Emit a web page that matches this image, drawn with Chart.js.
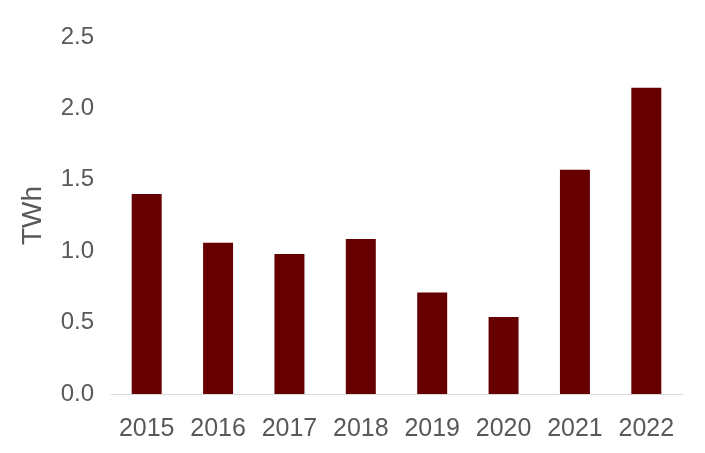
<!DOCTYPE html>
<html>
<head>
<meta charset="utf-8">
<script src="https://cdn.jsdelivr.net/npm/chart.js@4"></script>
<style>
  html, body { margin: 0; padding: 0; background: #ffffff; }
  #wrap { width: 705px; height: 453px; position: relative; }
</style>
</head>
<body>
<div id="wrap"><canvas id="c" width="705" height="453"></canvas></div>
<script>
const categories = ["2015", "2016", "2017", "2018", "2019", "2020", "2021", "2022"];
const values = [1.40, 1.06, 0.98, 1.085, 0.71, 0.54, 1.57, 2.145];
const yTicks = [0, 0.5, 1.0, 1.5, 2.0, 2.5];
const yTitle = "TWh";

const textColor = "#595959";
const fontFamily = "Arial, 'Liberation Sans', sans-serif";

new Chart(document.getElementById("c"), {
  type: "bar",
  data: {
    labels: categories,
    datasets: [{
      data: values,
      backgroundColor: "#660000",
      borderWidth: 0,
      categoryPercentage: 1.0,
      barPercentage: 0.42
    }]
  },
  options: {
    responsive: false,
    animation: false,
    devicePixelRatio: 1,
    layout: { padding: { top: 37, right: 23, bottom: 0, left: 0 } },
    plugins: { legend: { display: false }, tooltip: { enabled: false } },
    scales: {
      x: {
        grid: { display: false, drawTicks: false },
        border: { display: true, color: "#d9d9d9", width: 1 },
        ticks: { color: textColor, font: { family: fontFamily, size: 25 }, padding: 20, maxRotation: 0 },
        afterFit: (s) => { s.height = 59; }
      },
      y: {
        min: 0,
        max: 2.5,
        afterBuildTicks: (s) => { s.ticks = yTicks.map(v => ({ value: v })); },
        grid: { display: false, drawTicks: false },
        border: { display: false },
        ticks: {
          color: textColor,
          font: { family: fontFamily, size: 24 },
          padding: 17,
          callback: (v) => Number(v).toFixed(1)
        },
        title: {
          display: true,
          text: yTitle,
          color: textColor,
          font: { family: fontFamily, size: 28 },
          padding: { top: 16, bottom: 0 }
        },
        afterFit: (s) => { s.width = 111; }
      }
    }
  }
});
</script>
</body>
</html>
